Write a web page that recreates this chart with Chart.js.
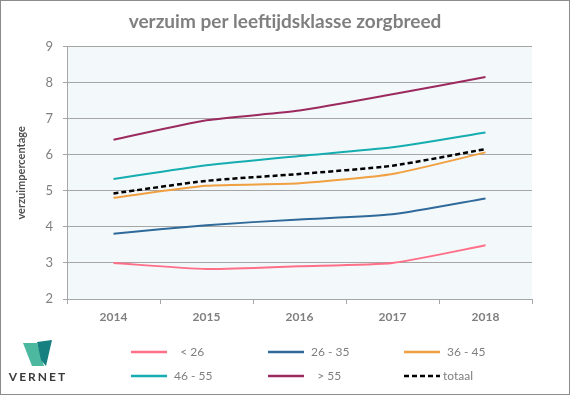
<!DOCTYPE html>
<html>
<head>
<meta charset="utf-8">
<script src="https://cdn.jsdelivr.net/npm/chart.js@4.4.1/dist/chart.umd.min.js"></script>
<style>
  html, body { margin: 0; padding: 0; background: #fff; }
  canvas { display: block; }
</style>
</head>
<body>
<canvas id="verzuimChart" width="570" height="395"></canvas>
<script>
const jaren = ['2014', '2015', '2016', '2017', '2018'];
const onder26 = [3.0, 2.83, 2.91, 3.0, 3.49];
const klasse26_35 = [3.81, 4.05, 4.21, 4.35, 4.79];
const klasse36_45 = [4.81, 5.14, 5.21, 5.47, 6.07];
const klasse46_55 = [5.33, 5.71, 5.97, 6.21, 6.62];
const boven55 = [6.42, 6.96, 7.23, 7.68, 8.16];
const totaal = [4.93, 5.28, 5.47, 5.70, 6.16];
const reeksNamen = ['  < 26', '26 - 35', '36 - 45', '46 - 55', '  > 55', 'totaal'];
const yTicks = [2, 3, 4, 5, 6, 7, 8, 9];

const kleuren = ['#FF6F88', '#2F6A9A', '#F0A040', '#15ADB0', '#9B2A5E', '#000000'];
const FONT = 'Lato, "Open Sans", sans-serif';
const GRIJS = '#7f7f7f';

function lijn(label, data, kleur, dash) {
    return {
        label: label,
        data: data,
        borderColor: kleur,
        backgroundColor: kleur,
        borderWidth: dash ? 2.5 : 2,
        borderDash: dash || [],
        pointRadius: 0,
        tension: 0.2,
        fill: false
    };
}

// achtergrond van plotgebied, legenda, logo en rand
const extras = {
    id: 'extras',
    beforeDraw(chart) {
        const {ctx, chartArea} = chart;
        ctx.save();
        ctx.fillStyle = '#F3F8FB';
        ctx.fillRect(chartArea.left, chartArea.top, chartArea.right - chartArea.left, chartArea.bottom - chartArea.top);
        ctx.restore();
    },
    afterDraw(chart) {
        const ctx = chart.ctx;
        ctx.save();
        // legenda in 2 rijen van 3
        const kolX = [131, 268, 404];
        const rijY = [352, 376];
        chart.data.datasets.forEach((ds, i) => {
            const x = kolX[i % 3];
            const y = rijY[Math.floor(i / 3)];
            ctx.beginPath();
            ctx.strokeStyle = ds.borderColor;
            ctx.lineWidth = 2.5;
            ctx.setLineDash(ds.borderDash.length ? [5, 3] : []);
            ctx.moveTo(x, y);
            ctx.lineTo(x + 36, y);
            ctx.stroke();
            ctx.setLineDash([]);
            ctx.fillStyle = GRIJS;
            ctx.font = '12px ' + FONT;
            ctx.textBaseline = 'middle';
            ctx.fillText(ds.label, x + (ds.borderDash.length ? 39 : 43), y);
        });
        // logo
        ctx.fillStyle = '#4DB8A0';
        ctx.beginPath();
        ctx.moveTo(23, 343); ctx.lineTo(37, 343); ctx.lineTo(44, 366); ctx.lineTo(32, 366);
        ctx.closePath(); ctx.fill();
        ctx.fillStyle = '#167F80';
        ctx.beginPath();
        ctx.moveTo(37, 342); ctx.lineTo(52, 340); ctx.lineTo(46, 366); ctx.lineTo(41, 360);
        ctx.closePath(); ctx.fill();
        ctx.fillStyle = '#3a3a3a';
        ctx.font = 'bold 12px ' + FONT;
        ctx.textBaseline = 'middle';
        ctx.textAlign = 'center';
        ctx.letterSpacing = '2px';
        ctx.fillText('VERNET', 38, 377);
        ctx.letterSpacing = '0px';
        // rand
        ctx.strokeStyle = '#8c8c8c';
        ctx.lineWidth = 1;
        ctx.strokeRect(0.5, 0.5, 569, 394);
        ctx.restore();
    }
};

const ctx = document.getElementById('verzuimChart').getContext('2d');
new Chart(ctx, {
    type: 'line',
    data: {
        labels: jaren,
        datasets: [
            lijn(reeksNamen[0], onder26, kleuren[0]),
            lijn(reeksNamen[1], klasse26_35, kleuren[1]),
            lijn(reeksNamen[2], klasse36_45, kleuren[2]),
            lijn(reeksNamen[3], klasse46_55, kleuren[3]),
            lijn(reeksNamen[4], boven55, kleuren[4]),
            lijn(reeksNamen[5], totaal, kleuren[5], [5, 3])
        ]
    },
    options: {
        responsive: false,
        animation: false,
        devicePixelRatio: 1,
        layout: { padding: 0 },
        plugins: {
            legend: { display: false },
            tooltip: { enabled: false },
            title: {
                display: true,
                text: 'verzuim per leeftijdsklasse zorgbreed',
                color: GRIJS,
                font: { family: FONT, size: 19, weight: 'bold' },
                padding: { top: 10, bottom: 14 }
            }
        },
        scales: {
            x: {
                offset: true,
                afterFit(scale) { scale.height = 96; },
                grid: { drawOnChartArea: false, drawTicks: true, tickLength: 5, color: '#a6a6a6', offset: true },
                border: { color: '#a6a6a6' },
                ticks: { color: GRIJS, padding: 6, font: { family: FONT, size: 12, weight: 'bold' } }
            },
            y: {
                min: 2,
                max: 9,
                afterFit(scale) { scale.width = 67; },
                afterBuildTicks(scale) { scale.ticks = yTicks.map(v => ({ value: v })); },
                grid: { color: '#a6a6a6', tickLength: 4, lineWidth: 1 },
                border: { color: '#a6a6a6' },
                ticks: { color: GRIJS, padding: 10, font: { family: FONT, size: 13 } },
                title: {
                    display: true,
                    text: 'verzuimpercentage',
                    color: '#505050',
                    font: { family: FONT, size: 11, weight: 'bold' },
                    padding: { top: 15, bottom: 0 }
                }
            },
            // lege ruimte rechts van het plotgebied
            rechts: {
                position: 'right',
                afterFit(scale) { scale.width = 38; },
                grid: { display: false },
                border: { display: false },
                ticks: { display: false }
            }
        }
    },
    plugins: [extras]
});
</script>
</body>
</html>
